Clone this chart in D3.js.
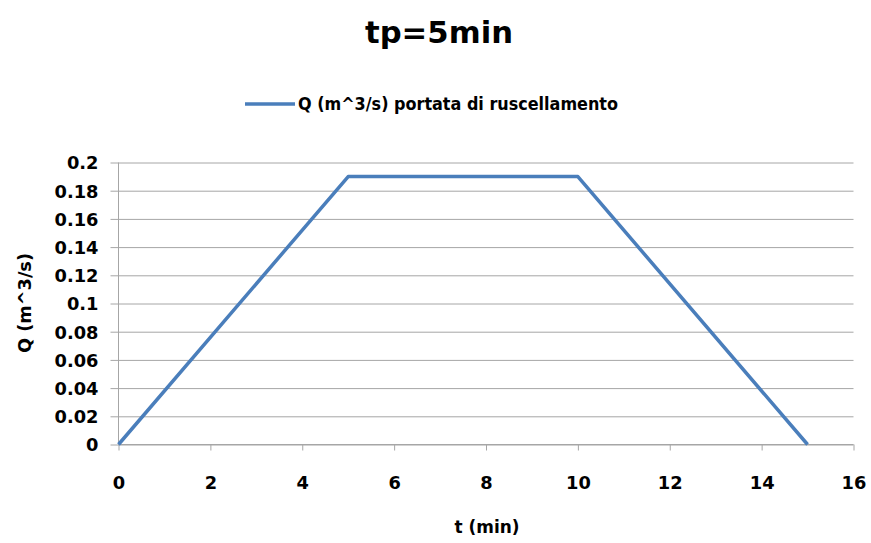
<!DOCTYPE html>
<html>
<head>
<meta charset="utf-8">
<script src="https://cdn.jsdelivr.net/npm/d3@7"></script>
<style>
  html, body { margin: 0; padding: 0; background: #fff; }
  svg { display: block; }
  text { font-family: "DejaVu Sans", sans-serif; font-weight: bold; fill: #000; }
</style>
</head>
<body>
<svg id="chart" width="871" height="543"></svg>
<script>
// Hydrograph: runoff discharge Q over time t
const timeMin = [0, 5, 10, 15];
const discharge = [0, 0.19, 0.19, 0];
const xTicks = [0, 2, 4, 6, 8, 10, 12, 14, 16];
const yTicks = [0, 0.02, 0.04, 0.06, 0.08, 0.1, 0.12, 0.14, 0.16, 0.18, 0.2];
const titleText = "tp=5min";
const seriesName = "Q (m^3/s) portata di ruscellamento";
const xTitle = "t (min)";
const yTitle = "Q (m^3/s)";

const svg = d3.select("#chart");
const plot = { left: 118.5, right: 853.5, top: 162.5, bottom: 444.5 };

const x = d3.scaleLinear().domain([0, 16]).range([plot.left, plot.right]);
const y = d3.scaleLinear().domain([0, 0.2]).range([plot.bottom, plot.top]);

// fit a text element to a given pixel width
function fit(sel, w) {
  sel.attr("textLength", w).attr("lengthAdjust", "spacingAndGlyphs");
  return sel;
}

// horizontal gridlines with tick stubs on the left
const yAxis = d3.axisLeft(y).tickValues(yTicks)
  .tickSize(-(plot.right - plot.left) - 8).tickPadding(12)
  .tickFormat(d => d3.format("")(+d.toFixed(2)));
const gy = svg.append("g").attr("transform", `translate(${plot.left - 8},0)`).call(yAxis);
gy.select(".domain").remove();
gy.selectAll(".tick line").attr("stroke", "#a6a6a6").attr("stroke-width", 1);
gy.selectAll(".tick text").attr("font-size", 18).attr("font-family", "DejaVu Sans")
  .attr("font-weight", "bold").attr("fill", "#000").attr("dy", "0.36em");

// x axis line with downward ticks
const xAxis = d3.axisBottom(x).tickValues(xTicks).tickSize(6).tickPadding(26)
  .tickFormat(d3.format("d"));
const gx = svg.append("g").attr("transform", `translate(0,${plot.bottom})`).call(xAxis);
gx.select(".domain").attr("stroke", "#a6a6a6").attr("d", `M${plot.left},0H${plot.right}`);
gx.selectAll(".tick line").attr("stroke", "#a6a6a6");
gx.selectAll(".tick text").attr("font-size", 18).attr("font-family", "DejaVu Sans")
  .attr("font-weight", "bold").attr("fill", "#000");

// widen the tick labels horizontally (wide bold face look)
const probe = gy.selectAll(".tick text").filter(d => Math.abs(d - 0.18) < 1e-9).node();
const sx = probe ? 44 / probe.getComputedTextLength() : 1;
gy.selectAll(".tick text").each(function () {
  const t = d3.select(this);
  const x0 = +t.attr("x");
  t.attr("x", x0 / sx).attr("transform", `scale(${sx},1)`);
});
gx.selectAll(".tick text").attr("transform", `scale(${sx},1)`);

// vertical axis line
svg.append("line")
  .attr("x1", plot.left).attr("x2", plot.left)
  .attr("y1", plot.top).attr("y2", plot.bottom)
  .attr("stroke", "#a6a6a6");

// the series
const pts = timeMin.map((t, i) => [t, discharge[i]]);
svg.append("path")
  .datum(pts)
  .attr("fill", "none")
  .attr("stroke", "#4a7ebb")
  .attr("stroke-width", 3.5)
  .attr("stroke-linejoin", "round")
  .attr("d", d3.line().x(d => x(d[0])).y(d => y(d[1])));

// title
fit(svg.append("text").attr("x", 439).attr("y", 43).attr("text-anchor", "middle")
  .attr("font-size", 31).text(titleText), 148);

// legend
svg.append("line").attr("x1", 245).attr("x2", 295).attr("y1", 104).attr("y2", 104)
  .attr("stroke", "#4a7ebb").attr("stroke-width", 3.5);
fit(svg.append("text").attr("x", 298).attr("y", 110).attr("font-size", 17)
  .text(seriesName), 320);

// axis titles
fit(svg.append("text").attr("x", 487).attr("y", 533).attr("text-anchor", "middle")
  .attr("font-size", 17).text(xTitle), 65);
fit(svg.append("text").attr("transform", "translate(31,303) rotate(-90)")
  .attr("text-anchor", "middle").attr("font-size", 17).text(yTitle), 100);
</script>
</body>
</html>
